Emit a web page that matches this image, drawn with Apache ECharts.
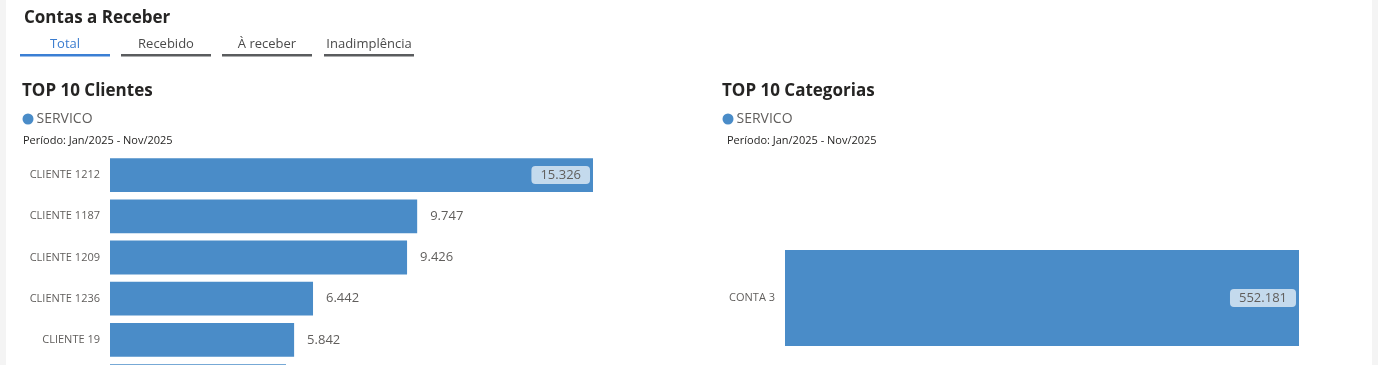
<!DOCTYPE html>
<html>
<head>
<meta charset="utf-8">
<script src="https://cdn.jsdelivr.net/npm/echarts@6/dist/echarts.min.js"></script>
<style>
html,body{margin:0;padding:0;background:#ffffff;overflow:hidden;}
#main{width:1378px;height:365px;}
</style>
</head>
<body>
<div id="main"></div>
<script>
// ---- data ----
var pageTitle = 'Contas a Receber';
var tabs = ['Total', 'Recebido', 'À receber', 'Inadimplência'];
var leftTitle = 'TOP 10 Clientes';
var rightTitle = 'TOP 10 Categorias';
var seriesName = 'SERVICO';
var periodText = 'Período: Jan/2025 - Nov/2025';
var clientCategories = ['CLIENTE 1212', 'CLIENTE 1187', 'CLIENTE 1209', 'CLIENTE 1236', 'CLIENTE 19', ''];
var clientValues = [15326, 9747, 9426, 6442, 5842, 5585];
var accountCategories = ['CONTA 3'];
var accountValues = [552181];

function fmt(v) {
  return String(Math.round(v)).replace(/\B(?=(\d{3})+(?!\d))/g, '.');
}

var FONT = '"Open Sans", "Noto Sans", sans-serif';
var BLUE = '#4a8cc8';
var GRAY = '#605e5c';

function labelData(values) {
  var max = Math.max.apply(null, values);
  return values.map(function (v) {
    if (v === max) {
      return {
        value: v,
        label: {
          position: 'insideRight',
          distance: 3,
          backgroundColor: 'rgba(255,255,255,0.68)',
          borderRadius: 4,
          padding: [3, 9, 2, 9]
        }
      };
    }
    return v;
  });
}

var chart = echarts.init(document.getElementById('main'), null, {renderer: 'canvas'});

var tabCenters = [65, 166, 267, 369];
var tabGraphics = [];
tabs.forEach(function (t, i) {
  var active = i === 0;
  tabGraphics.push({
    type: 'text', x: tabCenters[i], y: 44.5,
    style: {text: t, font: '13px ' + FONT, fill: active ? '#3a7ccf' : '#4a4a4a', align: 'center', verticalAlign: 'middle'}
  });
  tabGraphics.push({
    type: 'rect', shape: {x: tabCenters[i] - 45, y: 54, width: 90, height: 2.5},
    style: {fill: active ? '#3b7fd4' : '#5a5c5e'}
  });
});

var titleStyle = {fontSize: 17, fontWeight: 'bold', color: '#252423', fontFamily: FONT};
var periodStyle = {fontSize: 11, fontWeight: 'normal', color: '#252423', fontFamily: FONT};
var legendText = {fontSize: 14, color: GRAY, fontFamily: FONT, padding: [0, 0, 0, -2]};

var option = {
  animation: false,
  backgroundColor: '#ffffff',
  textStyle: {fontFamily: FONT},
  title: [
    {text: pageTitle, left: 24, top: 10, padding: 0, textStyle: titleStyle},
    {text: leftTitle, left: 22, top: 83, padding: 0, textStyle: titleStyle},
    {text: rightTitle, left: 722, top: 83, padding: 0, textStyle: titleStyle},
    {text: periodText, left: 23, top: 135, padding: 0, textStyle: periodStyle},
    {text: periodText, left: 727, top: 135, padding: 0, textStyle: periodStyle}
  ],
  legend: [
    {data: [seriesName], left: 22.5, top: 112, padding: 0, icon: 'circle', itemWidth: 11, itemHeight: 11, itemGap: 0,
     textStyle: legendText, selectedMode: false},
    {data: [seriesName], left: 722.5, top: 112, padding: 0, icon: 'circle', itemWidth: 11, itemHeight: 11, itemGap: 0,
     textStyle: legendText, selectedMode: false}
  ],
  graphic: [
    {type: 'rect', shape: {x: 0, y: 0, width: 6, height: 365}, style: {fill: '#f4f4f4'}},
    {type: 'rect', shape: {x: 1372, y: 0, width: 6, height: 365}, style: {fill: '#f4f4f4'}}
  ].concat(tabGraphics),
  grid: [
    {left: 110, width: 483, top: 154.5, height: 247.2, containLabel: false, outerBoundsMode: 'none'},
    {left: 785, width: 514, top: 154, height: 288, containLabel: false, outerBoundsMode: 'none'}
  ],
  xAxis: [
    {gridIndex: 0, type: 'value', min: 0, max: 'dataMax', show: false},
    {gridIndex: 1, type: 'value', min: 0, max: 'dataMax', show: false}
  ],
  yAxis: [
    {gridIndex: 0, type: 'category', inverse: true, data: clientCategories,
     axisLine: {show: false}, axisTick: {show: false},
     axisLabel: {fontSize: 11, color: GRAY, margin: 10, fontFamily: FONT}},
    {gridIndex: 1, type: 'category', inverse: true, data: accountCategories,
     axisLine: {show: false}, axisTick: {show: false},
     axisLabel: {fontSize: 11, color: GRAY, margin: 10, fontFamily: FONT}}
  ],
  series: [
    {name: seriesName, type: 'bar', xAxisIndex: 0, yAxisIndex: 0, data: labelData(clientValues),
     barCategoryGap: '18%', itemStyle: {color: BLUE},
     label: {show: true, position: 'right', distance: 13, fontSize: 13, color: GRAY, fontFamily: FONT,
       formatter: function (p) { return fmt(p.value); }}},
    {name: seriesName, type: 'bar', xAxisIndex: 1, yAxisIndex: 1, data: labelData(accountValues),
     barWidth: 96, itemStyle: {color: BLUE},
     label: {show: true, position: 'right', distance: 13, fontSize: 13, color: GRAY, fontFamily: FONT,
       formatter: function (p) { return fmt(p.value); }}}
  ]
};
chart.setOption(option);
</script>
</body>
</html>
